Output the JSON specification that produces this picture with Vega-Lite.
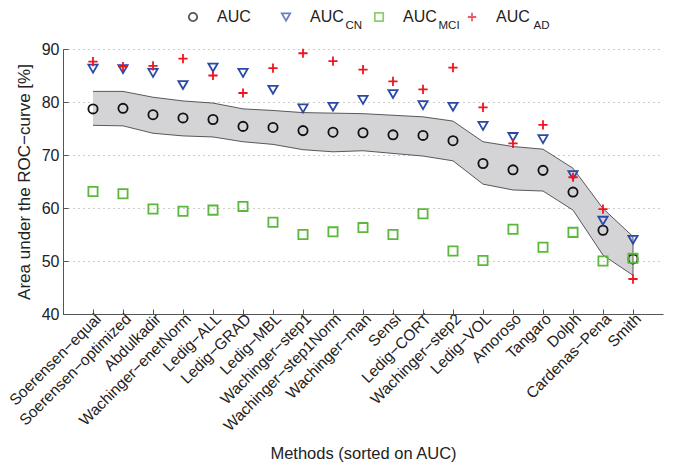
{
  "$schema": "https://vega.github.io/schema/vega-lite/v6.json",
  "width": 600,
  "height": 265,
  "autosize": "none",
  "padding": {"left": 63, "top": 49, "right": 10, "bottom": 155},
  "background": "white",
  "config": {
    "font": "Liberation Sans",
    "view": {"stroke": null},
    "legend": {"padding": 0},
    "axis": {"labelFont": "Liberation Sans", "titleFont": "Liberation Sans", "labelColor": "#222", "titleColor": "#222", "titleFontWeight": "normal", "domainColor": "#555", "tickColor": "#555"}
  },
  "data": {
    "values": [
      {"method": "Soerensen−equal", "AUC": 78.7, "AUC_CN": 86.3, "AUC_MCI": 63.1, "AUC_AD": 87.6, "lo": 75.6, "hi": 82.0},
      {"method": "Soerensen−optimized", "AUC": 78.8, "AUC_CN": 86.2, "AUC_MCI": 62.7, "AUC_AD": 86.7, "lo": 75.5, "hi": 82.0},
      {"method": "Abdulkadir", "AUC": 77.6, "AUC_CN": 85.5, "AUC_MCI": 59.8, "AUC_AD": 86.8, "lo": 74.1, "hi": 80.9},
      {"method": "Wachinger−enetNorm", "AUC": 77.0, "AUC_CN": 83.2, "AUC_MCI": 59.4, "AUC_AD": 88.2, "lo": 73.6, "hi": 80.2},
      {"method": "Ledig−ALL", "AUC": 76.7, "AUC_CN": 86.5, "AUC_MCI": 59.6, "AUC_AD": 85.0, "lo": 73.4, "hi": 79.8},
      {"method": "Ledig−GRAD", "AUC": 75.4, "AUC_CN": 85.5, "AUC_MCI": 60.3, "AUC_AD": 81.7, "lo": 72.5, "hi": 78.7},
      {"method": "Ledig−MBL", "AUC": 75.2, "AUC_CN": 82.3, "AUC_MCI": 57.3, "AUC_AD": 86.4, "lo": 72.0, "hi": 78.4},
      {"method": "Wachinger−step1", "AUC": 74.6, "AUC_CN": 78.8, "AUC_MCI": 55.0, "AUC_AD": 89.2, "lo": 71.0, "hi": 78.0},
      {"method": "Wachinger−step1Norm", "AUC": 74.3, "AUC_CN": 79.1, "AUC_MCI": 55.5, "AUC_AD": 87.7, "lo": 70.6, "hi": 77.9},
      {"method": "Wachinger−man", "AUC": 74.2, "AUC_CN": 80.4, "AUC_MCI": 56.3, "AUC_AD": 86.1, "lo": 70.8, "hi": 77.8},
      {"method": "Sensi", "AUC": 73.8, "AUC_CN": 81.5, "AUC_MCI": 55.0, "AUC_AD": 83.9, "lo": 70.3, "hi": 77.5},
      {"method": "Ledig−CORT", "AUC": 73.7, "AUC_CN": 79.4, "AUC_MCI": 58.9, "AUC_AD": 82.4, "lo": 69.8, "hi": 77.2},
      {"method": "Wachinger−step2", "AUC": 72.7, "AUC_CN": 79.1, "AUC_MCI": 51.9, "AUC_AD": 86.5, "lo": 68.9, "hi": 76.4},
      {"method": "Ledig−VOL", "AUC": 68.4, "AUC_CN": 75.5, "AUC_MCI": 50.1, "AUC_AD": 79.0, "lo": 64.5, "hi": 72.5},
      {"method": "Amoroso", "AUC": 67.2, "AUC_CN": 73.4, "AUC_MCI": 56.0, "AUC_AD": 72.2, "lo": 63.4, "hi": 71.6},
      {"method": "Tangaro", "AUC": 67.1, "AUC_CN": 73.0, "AUC_MCI": 52.6, "AUC_AD": 75.7, "lo": 63.2, "hi": 71.1},
      {"method": "Dolph", "AUC": 63.0, "AUC_CN": 66.2, "AUC_MCI": 55.4, "AUC_AD": 65.8, "lo": 59.6, "hi": 67.5},
      {"method": "Cardenas−Pena", "AUC": 55.8, "AUC_CN": 57.6, "AUC_MCI": 50.0, "AUC_AD": 59.8, "lo": 51.1, "hi": 59.9},
      {"method": "Smith", "AUC": 50.4, "AUC_CN": 54.0, "AUC_MCI": 50.5, "AUC_AD": 46.6, "lo": 47.3, "hi": 54.6}
    ]
  },
  "encoding": {
    "x": {
      "field": "method", "type": "nominal", "sort": null,
      "scale": {"type": "point", "padding": 1},
      "axis": {"title": "Methods (sorted on AUC)", "labelAngle": -45, "labelAlign": "right", "labelBaseline": "top", "labelFontSize": 15.5, "titleFontSize": 16.5, "titlePadding": 12, "tickSize": -5, "labelPadding": 2, "domainColor": "#555", "grid": false}
    }
  },
  "layer": [
    {
      "mark": {"type": "area", "color": "#d4d4d6", "opacity": 1},
      "encoding": {
        "y": {"field": "lo", "type": "quantitative", "scale": {"domain": [40, 90], "nice": false, "zero": false},
          "axis": {"title": "Area under the ROC−curve [%]", "values": [40, 50, 60, 70, 80, 90], "labelFontSize": 16, "titleFontSize": 17, "titlePadding": 8, "tickSize": -5, "labelPadding": 9, "grid": true, "gridDash": [1, 4], "gridColor": "#999", "gridWidth": 1}},
        "y2": {"field": "hi"}
      }
    },
    {"mark": {"type": "line", "color": "#333", "strokeWidth": 0.8}, "encoding": {"y": {"field": "lo", "type": "quantitative"}}},
    {"mark": {"type": "line", "color": "#333", "strokeWidth": 0.8}, "encoding": {"y": {"field": "hi", "type": "quantitative"}}},
    {
      "transform": [{"filter": "datum.method === 'Smith'"}],
      "mark": {"type": "rule", "color": "#333", "strokeWidth": 0.8},
      "encoding": {"y": {"field": "lo", "type": "quantitative"}, "y2": {"field": "hi"}}
    },
    {
      "transform": [{"fold": ["AUC", "AUC_CN", "AUC_MCI", "AUC_AD"], "as": ["series", "value"]}],
      "mark": {"type": "point", "filled": false, "strokeWidth": 1.8, "size": 85},
      "encoding": {
        "y": {"field": "value", "type": "quantitative"},
        "shape": {"field": "series", "type": "nominal",
          "scale": {"domain": ["AUC", "AUC_CN", "AUC_MCI", "AUC_AD"], "range": ["circle", "triangle-down", "square", "M-1,0L1,0M0,-1L0,1"]},
          "legend": {"orient": "none", "legendX": 122, "legendY": -40, "direction": "horizontal", "title": null, "labelFontSize": 16, "labelFont": "Liberation Sans", "labelColor": "#222", "symbolStrokeWidth": 1.8, "symbolSize": 70, "columnPadding": 27, "labelOffset": 16,
            "labelExpr": "datum.value === 'AUC' ? 'AUC' : datum.value === 'AUC_CN' ? 'AUC\u00a0\u00a0\u00a0\u00a0\u00a0\u00a0\u00a0' : datum.value === 'AUC_MCI' ? 'AUC\u00a0\u00a0\u00a0\u00a0\u00a0\u00a0\u00a0\u00a0\u00a0' : 'AUC'"}},
        "color": {"field": "series", "type": "nominal",
          "scale": {"domain": ["AUC", "AUC_CN", "AUC_MCI", "AUC_AD"], "range": ["#111111", "#2b4aa8", "#5cb83c", "#f0141e"]}},
        "opacity": {"field": "series", "type": "nominal",
          "scale": {"type": "ordinal", "domain": ["AUC_CN", "AUC", "AUC_MCI", "AUC_AD"], "range": [1, 1, 1, 1]},
          "legend": {"orient": "none", "legendX": 271, "legendY": -28.5, "values": ["AUC_CN"], "title": null, "labelExpr": "'CN'", "labelFontSize": 11.5, "labelFont": "Liberation Sans", "labelColor": "#222", "symbolSize": 0, "symbolStrokeColor": "transparent", "symbolFillColor": "transparent", "labelOffset": 0}},
        "size": {"field": "series", "type": "nominal",
          "scale": {"type": "ordinal", "domain": ["AUC_MCI", "AUC", "AUC_CN", "AUC_AD"], "range": [85, 85, 85, 85]},
          "legend": {"orient": "none", "legendX": 364, "legendY": -28.5, "values": ["AUC_MCI"], "title": null, "labelExpr": "'MCI'", "labelFontSize": 11.5, "labelFont": "Liberation Sans", "labelColor": "#222", "symbolStrokeColor": "transparent", "symbolFillColor": "transparent", "labelOffset": 0}},
        "strokeWidth": {"field": "series", "type": "nominal",
          "scale": {"type": "ordinal", "domain": ["AUC_AD", "AUC", "AUC_CN", "AUC_MCI"], "range": [1.8, 1.8, 1.8, 1.8]},
          "legend": {"orient": "none", "legendX": 459, "legendY": -28.5, "values": ["AUC_AD"], "title": null, "labelExpr": "'AD'", "labelFontSize": 11.5, "labelFont": "Liberation Sans", "labelColor": "#222", "symbolSize": 0, "symbolStrokeColor": "transparent", "symbolFillColor": "transparent", "labelOffset": 0}}
      }
    }
  ]
}
